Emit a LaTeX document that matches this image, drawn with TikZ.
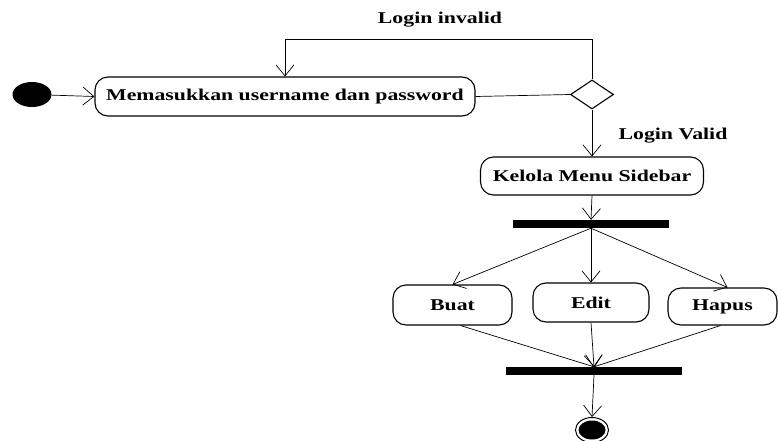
\documentclass[tikz,border=0pt]{standalone}
\usepackage{fontspec}
\setmainfont{Liberation Serif}[FakeStretch=1.32]
\usetikzlibrary{arrows.meta,shapes.geometric}
\begin{document}
\begin{tikzpicture}[x=1pt,y=-1pt,
  act/.style={draw,line width=1.1pt,rounded corners=13pt,minimum height=39pt,inner sep=0pt,
    font=\fontsize{16.5}{19}\selectfont\bfseries},
  bar/.style={fill=black,inner sep=0pt,minimum height=8pt},
  lbl/.style={font=\fontsize{16.5}{19}\selectfont\bfseries,inner sep=0pt},
  flow/.style={line width=0.7pt,-{Straight Barb[length=11pt,width=18pt,line width=0.7pt]}},
  plain/.style={line width=0.7pt}]
\useasboundingbox (0,0) rectangle (778,441);
\node[ellipse,fill=black,minimum width=39pt,minimum height=25pt,inner sep=0pt] (start) at (32,94.5) {};
\node[act,minimum width=380pt] (m) at (285,96.5) {Memasukkan username dan password};
\node[diamond,draw,line width=1.1pt,minimum width=43pt,minimum height=29pt,inner sep=0pt] (d) at (592,94.5) {};
\node[act,minimum width=223pt,minimum height=38pt] (k) at (592,176) {Kelola Menu Sidebar};
\node[bar,minimum width=156pt] (fork) at (591,224) {};
\node[act,minimum width=119pt,minimum height=40pt] (buat) at (452.5,305) {Buat};
\node[act,minimum width=116pt] (edit) at (591,302.5) {Edit};
\node[act,minimum width=109pt,minimum height=37pt] (hapus) at (722.5,306.5) {Hapus};
\node[bar,minimum width=176pt] (join) at (594,371) {};
\node[ellipse,draw,line width=1pt,minimum width=33pt,minimum height=25pt,inner sep=0pt] (endo) at (592,430) {};
\node[ellipse,fill=black,minimum width=27pt,minimum height=19pt,inner sep=0pt] (endin) at (592,430) {};
\coordinate (top) at (0,39.5);
\node[lbl] (linv) at (440,20) {Login invalid};
\node[lbl] (lval) at (673,136) {Login Valid};
\draw[flow] (start) -- (m.west);
\draw[plain] (m.east) -- (d.west);
\draw[flow] (d.north) -- (d.north|-top) -| (m.north);
\draw[flow] (d.south) -- (k.north);
\draw[flow] (k.south) -- (fork.north);
\draw[flow] (fork.south) -- (buat.north);
\draw[flow] (fork.south) -- (edit.north);
\draw[flow] (fork.south) -- ([xshift=5pt]hapus.north);
\draw[flow] ([xshift=8pt]buat.south) -- (join.north);
\draw[flow] (edit.south) -- (join.north);
\draw[flow] ([xshift=-2pt]hapus.south) -- (join.north);
\draw[flow] (join.south) -- (endo.north);
\end{tikzpicture}
\end{document}
